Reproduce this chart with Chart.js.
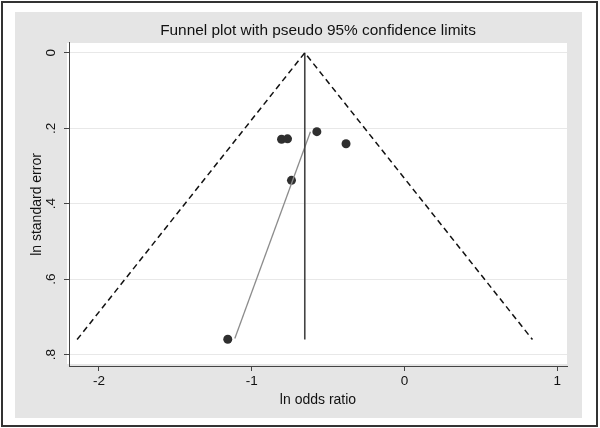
<!DOCTYPE html>
<html>
<head>
<meta charset="utf-8">
<script src="https://cdn.jsdelivr.net/npm/chart.js@4"></script>
<style>
  html, body { margin: 0; padding: 0; background: #ffffff; }
  #wrap { width: 600px; height: 428px; }
</style>
</head>
<body>
<div id="wrap"><canvas id="c" width="600" height="428"></canvas></div>
<script>
// ---- data ----
const studyLnOR = [-0.805, -0.766, -0.574, -0.383, -0.740, -1.157];
const studySE   = [0.229, 0.228, 0.209, 0.241, 0.338, 0.759];
const pooledX   = [-0.653, -0.653];
const pooledY   = [0, 0.76];
const funnelX   = [-2.143, -0.653, 0.837];
const funnelY   = [0.76, 0, 0.76];
const eggerX    = [-0.616, -1.111];
const eggerY    = [0.209, 0.757];
const xTicks    = [-2, -1, 0, 1];
const yTicks    = [0, 0.2, 0.4, 0.6, 0.8];
const titleText = 'Funnel plot with pseudo 95% confidence limits';
const xTitle    = 'ln odds ratio';
const yTitle    = 'ln standard error';

const FONT = '"Liberation Sans", Arial, Helvetica, sans-serif';
const pts = (xs, ys) => xs.map((x, i) => ({ x: x, y: ys[i] }));

const bgPlugin = {
  id: 'bg',
  beforeDraw(chart) {
    const ctx = chart.ctx;
    const a = chart.chartArea;
    ctx.save();
    ctx.fillStyle = '#ffffff';
    ctx.fillRect(0, 0, chart.width, chart.height);
    ctx.fillStyle = '#e5e5e5';
    ctx.fillRect(15, 12, 567, 406);
    ctx.fillStyle = '#ffffff';
    ctx.fillRect(a.left - 2, a.top, a.right - a.left + 2, a.bottom - a.top - 2);
    ctx.strokeStyle = '#333333';
    ctx.lineWidth = 2;
    ctx.strokeRect(2, 2, 595, 424);
    ctx.restore();
  }
};

new Chart(document.getElementById('c'), {
  type: 'scatter',
  data: {
    datasets: [
      {
        label: 'funnel',
        data: pts(funnelX, funnelY),
        showLine: true,
        borderColor: '#111111',
        borderWidth: 1.5,
        borderDash: [6, 4],
        pointRadius: 0,
        fill: false
      },
      {
        label: 'pooled',
        data: pts(pooledX, pooledY),
        showLine: true,
        borderColor: '#444444',
        borderWidth: 1.6,
        pointRadius: 0,
        fill: false
      },
      {
        label: 'egger',
        data: pts(eggerX, eggerY),
        showLine: true,
        borderColor: '#8c8c8c',
        borderWidth: 1.3,
        pointRadius: 0,
        fill: false
      },
      {
        label: 'studies',
        data: pts(studyLnOR, studySE),
        showLine: false,
        pointRadius: 4.5,
        pointBackgroundColor: '#2f2f2f',
        pointBorderColor: '#2f2f2f',
        pointBorderWidth: 0
      }
    ]
  },
  options: {
    responsive: false,
    animation: false,
    devicePixelRatio: 1,
    layout: { padding: { left: 0, right: 33, top: 0, bottom: 0 } },
    plugins: {
      legend: { display: false },
      tooltip: { enabled: false },
      title: {
        display: true,
        text: titleText,
        fullSize: false,
        color: '#111111',
        font: { family: FONT, size: 15.4, weight: 'normal' },
        padding: { top: 22, bottom: 2.5 }
      }
    },
    scales: {
      x: {
        type: 'linear',
        min: -2.196,
        max: 1.063,
        afterFit(s) { s.height = 62; },
        afterBuildTicks(s) { s.ticks = xTicks.map(v => ({ value: v })); },
        grid: { drawOnChartArea: false, drawTicks: true, tickLength: 5, tickColor: '#444444', tickWidth: 1 },
        border: { display: true, color: '#444444', width: 1 },
        ticks: {
          color: '#111111',
          font: { family: FONT, size: 13.5 },
          padding: 2,
          maxRotation: 0,
          callback: v => String(v)
        },
        title: {
          display: true,
          text: xTitle,
          color: '#111111',
          font: { family: FONT, size: 14 },
          padding: { top: 0, bottom: 19.6 }
        }
      },
      y: {
        type: 'linear',
        reverse: true,
        min: -0.026,
        max: 0.83,
        afterFit(s) { s.width = 69; },
        afterBuildTicks(s) { s.ticks = yTicks.map(v => ({ value: v })); },
        grid: { drawOnChartArea: true, color: '#e8e8e8', lineWidth: 1, drawTicks: true, tickLength: 5, tickColor: '#444444', tickWidth: 1 },
        border: { display: true, color: '#444444', width: 1 },
        ticks: {
          color: '#111111',
          font: { family: FONT, size: 13.5 },
          padding: 7,
          minRotation: 90,
          maxRotation: 90,
          crossAlign: 'center',
          callback: v => (v === 0 ? '0' : String(Math.round(v * 10) / 10).replace(/^0\./, '.'))
        },
        title: {
          display: true,
          text: yTitle,
          color: '#111111',
          font: { family: FONT, size: 14 },
          padding: { top: 28.6, bottom: 0 }
        }
      }
    }
  },
  plugins: [bgPlugin]
});
</script>
</body>
</html>
